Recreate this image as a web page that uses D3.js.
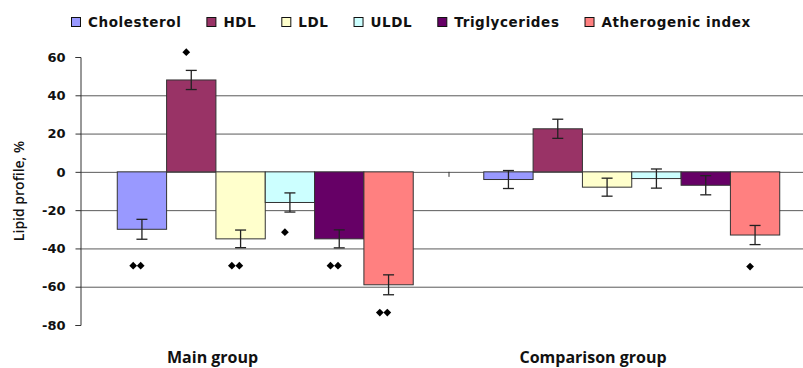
<!DOCTYPE html>
<html>
<head>
<meta charset="utf-8">
<script src="https://cdn.jsdelivr.net/npm/d3@7"></script>
<style>
  body { margin: 0; background: #fff; }
  svg { display: block; }
</style>
</head>
<body>
<svg width="803" height="368"></svg>
<script>
const groups = ["Main group", "Comparison group"];
const series = ["Cholesterol", "HDL", "LDL", "ULDL", "Triglycerides", "Atherogenic index"];
const colors = ["#9999ff", "#993366", "#ffffcc", "#ccffff", "#660066", "#ff8080"];

// mean change, % (per group, in series order)
const mainValues = [-30, 48, -35, -16, -35, -59];
const compValues = [-4, 22.5, -8, -3.5, -7, -33];
// error bar half-length
const mainErrors = [5.2, 5, 4.6, 5, 4.7, 5.2];
const compErrors = [4.7, 5, 4.7, 5, 5, 5];

const yTicks = [60, 40, 20, 0, -20, -40, -60, -80];

// significance marks: group, series, y value, number of diamonds
const marks = [
  ["Main group", "Cholesterol", -49, 2],
  ["Main group", "HDL", 62.5, 1],
  ["Main group", "LDL", -49, 2],
  ["Main group", "ULDL", -31.5, 1],
  ["Main group", "Triglycerides", -49, 2],
  ["Main group", "Atherogenic index", -73.5, 2],
  ["Comparison group", "Atherogenic index", -49.5, 1]
];

const values = [mainValues, compValues];
const errors = [mainErrors, compErrors];
const rows = [];
groups.forEach((g, gi) => series.forEach((s, si) => {
  rows.push({group: g, series: s, value: values[gi][si], err: errors[gi][si], color: colors[si]});
}));

const svg = d3.select("svg");

const y = d3.scaleLinear().domain([-80, 60]).range([325, 57]);
const x0 = d3.scaleBand().domain(groups).range([82, 815]);
const x1 = d3.scaleBand().domain(series).range([0, x0.bandwidth()]).paddingOuter(0.715);

// gridlines
svg.append("g")
  .selectAll("line")
  .data(yTicks.filter(t => t > -80 && t < 60))
  .join("line")
  .attr("x1", 80).attr("x2", 803)
  .attr("y1", d => y(d) + 0.5).attr("y2", d => y(d) + 0.5)
  .attr("stroke", "#5a5a5a").attr("stroke-width", 1);

// y axis
const yAxis = svg.append("g")
  .attr("transform", "translate(80.5,0)")
  .call(d3.axisLeft(y).tickValues(yTicks).tickSize(5).tickPadding(10).tickFormat(d3.format("d")));
yAxis.select(".domain").attr("stroke", "#333");
yAxis.selectAll(".tick line").attr("stroke", "#333");
yAxis.selectAll(".tick text")
  .attr("font-family", "DejaVu Sans").attr("font-weight", "bold")
  .attr("font-size", 13).attr("fill", "#111")
  .text(d => d < 0 ? "-" + Math.abs(d) : d);

// category boundary tick on the zero line
svg.append("line")
  .attr("x1", x0(groups[1]) + 0.5).attr("x2", x0(groups[1]) + 0.5)
  .attr("y1", y(0)).attr("y2", y(0) + 5)
  .attr("stroke", "#333");

// bars
const bars = svg.append("g");
bars.selectAll("rect")
  .data(rows)
  .join("rect")
  .attr("x", d => x0(d.group) + x1(d.series))
  .attr("width", x1.bandwidth())
  .attr("y", d => y(Math.max(0, d.value)))
  .attr("height", d => Math.abs(y(d.value) - y(0)))
  .attr("fill", d => d.color)
  .attr("stroke", "#333").attr("stroke-width", 1);

// error bars
const eb = svg.append("g").attr("stroke", "#222").attr("stroke-width", 1.3);
rows.forEach(d => {
  const cx = x0(d.group) + x1(d.series) + x1.bandwidth() / 2;
  const top = y(d.value + d.err), bot = y(d.value - d.err);
  eb.append("line").attr("x1", cx).attr("x2", cx).attr("y1", top).attr("y2", bot);
  eb.append("line").attr("x1", cx - 5.5).attr("x2", cx + 5.5).attr("y1", top).attr("y2", top);
  eb.append("line").attr("x1", cx - 5.5).attr("x2", cx + 5.5).attr("y1", bot).attr("y2", bot);
});

// diamonds
const diamond = d3.symbol().type(d3.symbolSquare).size(30);
const mg = svg.append("g").attr("fill", "#000");
marks.forEach(([g, s, v, n]) => {
  const cx = x0(g) + x1(s) + x1.bandwidth() / 2 - 5;
  for (let i = 0; i < n; i++) {
    const dx = (i - (n - 1) / 2) * 7.5;
    mg.append("path")
      .attr("d", diamond)
      .attr("transform", `translate(${cx + dx},${y(v)}) rotate(45)`);
  }
});

// category labels
const catShift = {"Main group": 85, "Comparison group": 71};
svg.append("g")
  .selectAll("text")
  .data(groups)
  .join("text")
  .attr("x", d => x0(d) + catShift[d]).attr("y", 363)
  .attr("font-family", "Open Sans").attr("font-weight", "bold").attr("font-size", 16)
  .attr("fill", "#111")
  .text(d => d);

// y title
svg.append("text")
  .attr("transform", `translate(24,${(y(60) + y(-80)) / 2}) rotate(-90)`)
  .attr("text-anchor", "middle")
  .attr("font-family", "Open Sans").attr("font-weight", 600).attr("font-size", 14)
  .attr("fill", "#111")
  .text("Lipid profile, %");

// legend
const legend = svg.append("g");
let lx = 71;
series.forEach((s, i) => {
  legend.append("rect")
    .attr("x", lx + 0.5).attr("y", 17.5).attr("width", 9).attr("height", 9)
    .attr("fill", colors[i]).attr("stroke", "#111");
  const t = legend.append("text")
    .attr("x", lx + 17).attr("y", 27)
    .attr("font-family", "DejaVu Sans").attr("font-weight", "bold")
    .attr("font-size", 13.5).attr("letter-spacing", 0.6)
    .attr("fill", "#111")
    .text(s);
  lx += 17 + t.node().getComputedTextLength() + 25;
});
</script>
</body>
</html>
